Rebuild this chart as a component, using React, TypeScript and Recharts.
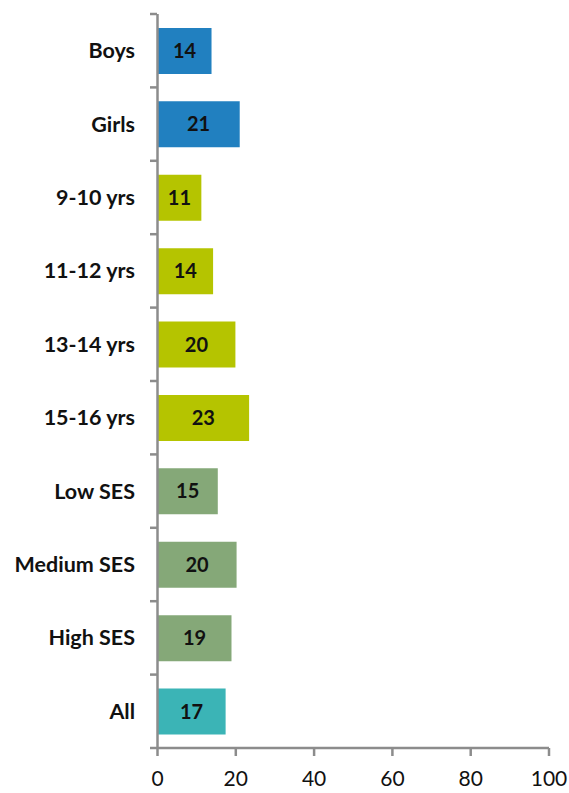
import React from 'react';
import { BarChart, Bar, XAxis, YAxis, Cell, LabelList } from 'recharts';

const categories = ['Boys', 'Girls', '9-10 yrs', '11-12 yrs', '13-14 yrs', '15-16 yrs', 'Low SES', 'Medium SES', 'High SES', 'All'];
const values = [13.8, 21.0, 11.2, 14.2, 19.9, 23.4, 15.4, 20.2, 18.9, 17.4];
const groups = ['gender', 'gender', 'age', 'age', 'age', 'age', 'ses', 'ses', 'ses', 'all'];
const xTicks = [0, 20, 40, 60, 80, 100];

const groupColors: Record<string, string> = {
  gender: '#2180c0',
  age: '#b5c400',
  ses: '#85a878',
  all: '#3bb4b6',
};

const AXIS = '#8c8c8c';
const FONT = 'Lato, "Open Sans", sans-serif';

const data = categories.map((name, i) => ({ name, value: values[i], group: groups[i] }));

// category ticks sit between bands, like Excel, so draw them from the band offset
const CategoryTick = (props: any) => {
  const { x, y, payload, index } = props;
  const half = payload.offset || 0;
  return (
    <g>
      <line x1={x + 15} x2={x + 22} y1={y - half} y2={y - half} stroke={AXIS} strokeWidth={2.5} />
      {index === categories.length - 1 && (
        <line x1={x + 15} x2={x + 22} y1={y + half} y2={y + half} stroke={AXIS} strokeWidth={2.5} />
      )}
      <text x={x} y={y} dy="0.35em" textAnchor="end" fontFamily={FONT} fontWeight="bold" fontSize={21.5} fill="#111">
        {payload.value}
      </text>
    </g>
  );
};

const App: React.FC = () => {
  return (
    <div style={{ position: 'absolute', left: 0, top: 0, background: '#fff' }}>
      <BarChart
        width={569}
        height={793}
        data={data}
        layout="vertical"
        margin={{ top: 14, right: 20, left: 0, bottom: 0 }}
        barCategoryGap="19%"
      >
        <XAxis
          type="number"
          domain={[0, 100]}
          ticks={xTicks}
          height={45}
          axisLine={{ stroke: AXIS, strokeWidth: 2.5 }}
          tickLine={{ stroke: AXIS, strokeWidth: 2.5 }}
          tickSize={8}
          tickMargin={15}
          tick={{ fill: '#111', fontSize: 21, fontFamily: FONT }}
        />
        <YAxis
          type="category"
          dataKey="name"
          width={157.5}
          axisLine={{ stroke: AXIS, strokeWidth: 2.5 }}
          tickLine={false}
          tickMargin={0}
          tickSize={0}
          tick={(p: any) => <CategoryTick {...p} x={135} />}
        />
        <Bar dataKey="value" isAnimationActive={false}>
          {data.map((d, i) => (
            <Cell key={`cell-${i}`} fill={groupColors[d.group]} />
          ))}
          <LabelList
            dataKey="value"
            position="center"
            formatter={(v: any) => Math.round(Number(v))}
            style={{ fill: '#111', fontWeight: 'bold', fontSize: 20, fontFamily: FONT }}
          />
        </Bar>
      </BarChart>
    </div>
  );
};

export default App;
